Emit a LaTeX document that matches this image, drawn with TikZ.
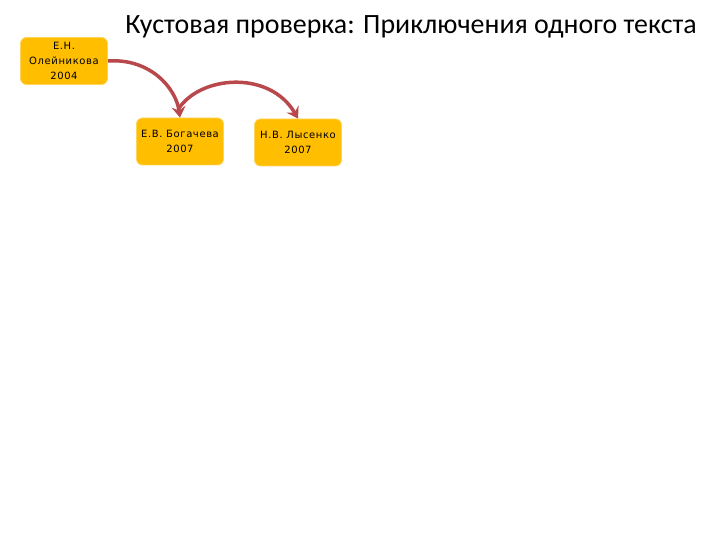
\documentclass[tikz,border=0pt]{standalone}
\usepackage{fontspec}
\setmainfont{Carlito}
\newfontfamily\boxfont[LetterSpace=6]{DejaVu Sans}
\usetikzlibrary{arrows.meta}
\definecolor{boxfill}{RGB}{255,190,0}
\definecolor{boxline}{RGB}{255,212,90}
\definecolor{arrowred}{RGB}{184,72,76}
\tikzset{
  author/.style={draw=boxline, fill=boxfill, line width=0.8pt, rounded corners=6pt,
    minimum width=87pt, minimum height=47pt, align=center, inner sep=2pt,
    font=\boxfont\fontsize{10}{15}\selectfont},
  link/.style={draw=arrowred, line width=3.5pt, -{Stealth[length=11pt,width=14pt,inset=4pt]}}
}
\begin{document}
\begin{tikzpicture}[x=1pt, y=-1pt]
	\useasboundingbox (0,0) rectangle (720,540);
	% title
	\node (title) at (411,27) {\fontsize{27.9}{30}\selectfont Кустовая проверка: Приключения одного текста};
	% authors
	\node[author] (olein) at (64,61) {Е.Н.\\Олейникова\\2004};
	\node[author] (bog) at (180,141.5) {Е.В. Богачева\\2007};
	\node[author] (lys) at (298,142.5) {Н.В. Лысенко\\2007};
	% arrows
	\coordinate (bogtop) at ([xshift=-2pt, yshift=8pt]bog.north);
	\draw[link] (olein.east) .. controls (150,58) and (176,88) .. (bog.north);
	\draw[link] (bogtop) .. controls (200,75) and (270,70) .. (lys.north);
\end{tikzpicture}
\end{document}
